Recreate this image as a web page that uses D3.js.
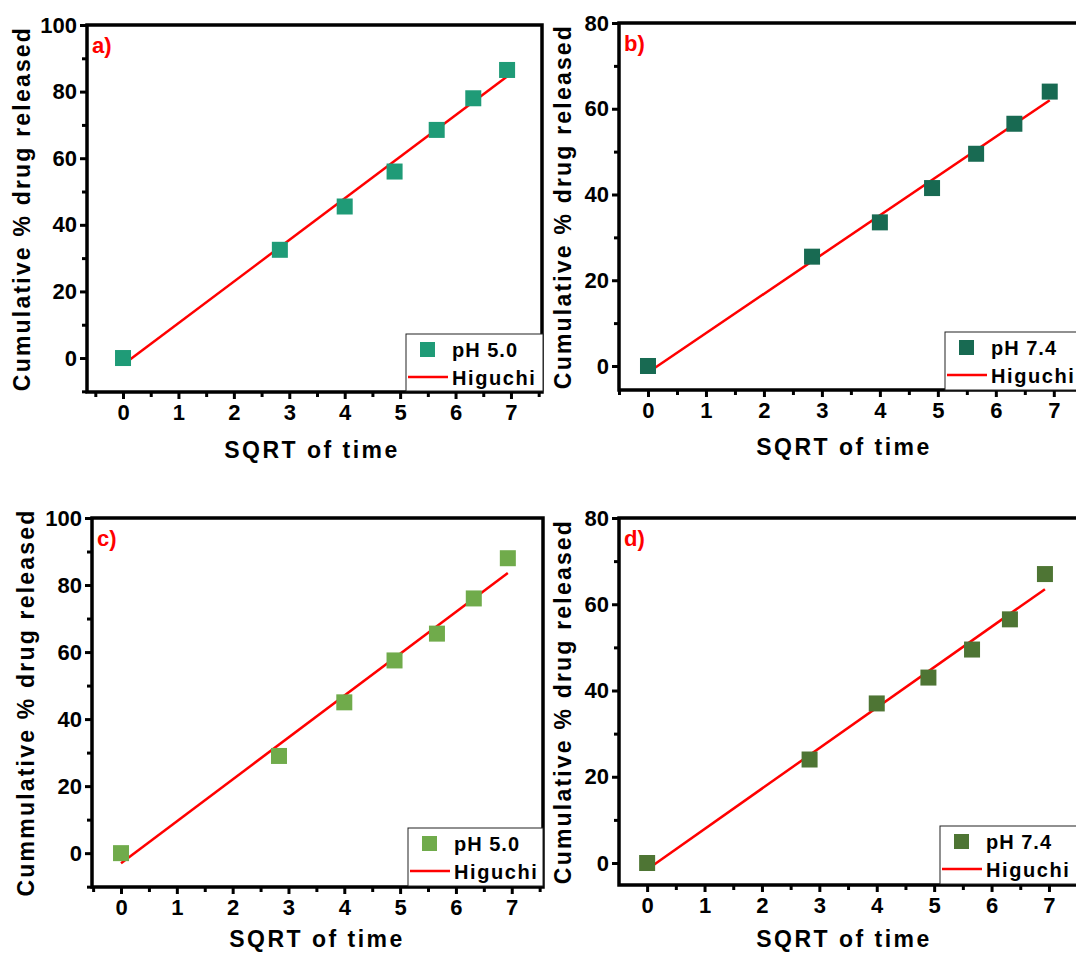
<!DOCTYPE html>
<html>
<head>
<meta charset="utf-8">
<script src="https://cdn.jsdelivr.net/npm/d3@7"></script>
<style>
  body { margin: 0; background: #fff; }
  svg { display: block; font-family: "Liberation Sans", Arial, sans-serif; }
  .tick text { font-weight: bold; font-size: 22px; fill: #000; }
</style>
</head>
<body>
<svg id="chart" width="1076" height="956"></svg>
<script>
// sqrt of sampling time (0, 8, 16, 24, 32, 40, 48 h)
const sqrtTime = [0, 2.83, 4, 4.9, 5.66, 6.32, 6.93];

const releaseA = [0, 32.5, 45.5, 56, 68.5, 78, 86.5];
const releaseB = [0, 25.5, 33.5, 41.5, 49.5, 56.5, 64];
const releaseC = [0, 29, 45, 57.5, 65.5, 76, 88];
const releaseD = [0, 24, 37, 43, 49.5, 56.5, 67];

// Higuchi fit read at first and last time point
const fitX = [0, 6.93];
const fitA = [-2, 84.5];
const fitB = [-1.5, 62];
const fitC = [-3, 83.6];
const fitD = [-1.5, 63.5];

const xTicks = [0, 1, 2, 3, 4, 5, 6, 7];
const yTicks100 = [0, 20, 40, 60, 80, 100];
const yTicks80 = [0, 20, 40, 60, 80];

const panels = [
  { tag: "a)", label: "pH 5.0", color: "#1f9b77", data: releaseA, fit: fitA,
    yTitle: "Cumulative % drug released", yTicks: yTicks100,
    x0: 87, x1: 542, y0: 25, y1: 392, xDom: [-0.65, 7.56], yDom: [-10.2, 100],
    titleDx: 63, xTitleDy: 60, legend: { x: 406, y: 334, w: 137, h: 57 } },
  { tag: "b)", label: "pH 7.4", color: "#186a52", data: releaseB, fit: fitB,
    yTitle: "Cumulative % drug released", yTicks: yTicks80,
    x0: 619, x1: 1088, y0: 23, y1: 390, xDom: [-0.5, 7.59], yDom: [-5.6, 80],
    titleDx: 54, xTitleDy: 59, legend: { x: 945, y: 332, w: 150, h: 58 } },
  { tag: "c)", label: "pH 5.0", color: "#70ab4b", data: releaseC, fit: fitC,
    yTitle: "Cummulative % drug released", yTicks: yTicks100,
    x0: 92, x1: 543, y0: 518, y1: 887, xDom: [-0.52, 7.56], yDom: [-10.1, 100],
    titleDx: 64, xTitleDy: 54, legend: { x: 408, y: 828, w: 135, h: 58 } },
  { tag: "d)", label: "pH 7.4", color: "#4e7534", data: releaseD, fit: fitD,
    yTitle: "Cumulative % drug released", yTicks: yTicks80,
    x0: 619, x1: 1088, y0: 518, y1: 885, xDom: [-0.49, 7.68], yDom: [-5.1, 80],
    titleDx: 54, xTitleDy: 56, legend: { x: 940, y: 826, w: 150, h: 58 } }
];

const svg = d3.select("#chart");

function minorBetween(ticks, step, lo, hi) {
  const out = [];
  for (let i = 0; i < ticks.length; i++) {
    const v = ticks[i] - step;
    if (v >= lo && v <= hi) out.push(v);
  }
  const last = ticks[ticks.length - 1] + step;
  if (last >= lo && last <= hi) out.push(last);
  return out;
}

panels.forEach((p) => {
  const g = svg.append("g");
  const x = d3.scaleLinear().domain(p.xDom).range([p.x0, p.x1]);
  const y = d3.scaleLinear().domain(p.yDom).range([p.y1, p.y0]);

  // minor ticks
  const ystep = (p.yTicks[1] - p.yTicks[0]) / 2;
  g.append("g")
    .attr("transform", `translate(0,${p.y1})`)
    .call(d3.axisBottom(x).tickValues(minorBetween(xTicks, 0.5, p.xDom[0], p.xDom[1]))
      .tickSize(5).tickSizeOuter(0).tickFormat(""))
    .call((a) => a.select(".domain").remove())
    .call((a) => a.selectAll("line").attr("stroke-width", 3));
  g.append("g")
    .attr("transform", `translate(${p.x0},0)`)
    .call(d3.axisLeft(y).tickValues(minorBetween(p.yTicks, ystep, p.yDom[0], p.yDom[1]))
      .tickSize(5).tickSizeOuter(0).tickFormat(""))
    .call((a) => a.select(".domain").remove())
    .call((a) => a.selectAll("line").attr("stroke-width", 3));

  // major ticks
  g.append("g")
    .attr("transform", `translate(0,${p.y1})`)
    .call(d3.axisBottom(x).tickValues(xTicks).tickSize(7).tickPadding(5).tickSizeOuter(0))
    .call((a) => a.select(".domain").remove())
    .call((a) => a.selectAll("line").attr("stroke-width", 3));
  g.append("g")
    .attr("transform", `translate(${p.x0},0)`)
    .call(d3.axisLeft(y).tickValues(p.yTicks).tickSize(7).tickPadding(3).tickSizeOuter(0))
    .call((a) => a.select(".domain").remove())
    .call((a) => a.selectAll("line").attr("stroke-width", 3));

  // frame
  g.append("rect")
    .attr("x", p.x0).attr("y", p.y0)
    .attr("width", p.x1 - p.x0).attr("height", p.y1 - p.y0)
    .attr("fill", "none").attr("stroke", "#000").attr("stroke-width", 3.5);

  // fit line
  g.append("line")
    .attr("x1", x(fitX[0])).attr("y1", y(p.fit[0]))
    .attr("x2", x(fitX[1])).attr("y2", y(p.fit[1]))
    .attr("stroke", "#ff0000").attr("stroke-width", 2.5);

  // data squares
  const s = 16;
  g.selectAll("rect.pt")
    .data(p.data.map((v, i) => [sqrtTime[i], v]))
    .join("rect")
    .attr("class", "pt")
    .attr("x", (d) => x(d[0]) - s / 2)
    .attr("y", (d) => y(d[1]) - s / 2)
    .attr("width", s).attr("height", s)
    .attr("fill", p.color);

  // panel tag
  g.append("text")
    .attr("x", p.x0 + 5).attr("y", p.y0 + 28)
    .attr("fill", "#ff0000").attr("font-weight", "bold").attr("font-size", 22)
    .text(p.tag);

  // legend
  const L = p.legend;
  const lg = g.append("g");
  lg.append("rect")
    .attr("x", L.x).attr("y", L.y).attr("width", L.w).attr("height", L.h)
    .attr("fill", "#fff").attr("stroke", "#222").attr("stroke-width", 1);
  lg.append("rect")
    .attr("x", L.x + 14).attr("y", L.y + 8).attr("width", 15).attr("height", 15)
    .attr("fill", p.color);
  lg.append("line")
    .attr("x1", L.x + 2).attr("x2", L.x + 42)
    .attr("y1", L.y + 43).attr("y2", L.y + 43)
    .attr("stroke", "#ff0000").attr("stroke-width", 2.5);
  lg.append("text")
    .attr("x", L.x + 46).attr("y", L.y + 23)
    .attr("font-weight", "bold").attr("font-size", 20).attr("letter-spacing", 1)
    .text(p.label);
  lg.append("text")
    .attr("x", L.x + 46).attr("y", L.y + 51)
    .attr("font-weight", "bold").attr("font-size", 20).attr("letter-spacing", 1.6)
    .text("Higuchi");

  // axis titles
  g.append("text")
    .attr("x", p.x0 + 225)
    .attr("y", p.y1 + p.xTitleDy)
    .attr("text-anchor", "middle").attr("dominant-baseline", "middle")
    .attr("font-weight", "bold").attr("font-size", 23).attr("letter-spacing", 2.5)
    .text("SQRT of time");
  g.append("text")
    .attr("transform", `translate(${p.x0 - p.titleDx},${(p.y0 + p.y1) / 2}) rotate(-90)`)
    .attr("text-anchor", "middle").attr("dominant-baseline", "middle")
    .attr("font-weight", "bold").attr("font-size", 23).attr("letter-spacing", 2.2)
    .text(p.yTitle);
});
</script>
</body>
</html>
